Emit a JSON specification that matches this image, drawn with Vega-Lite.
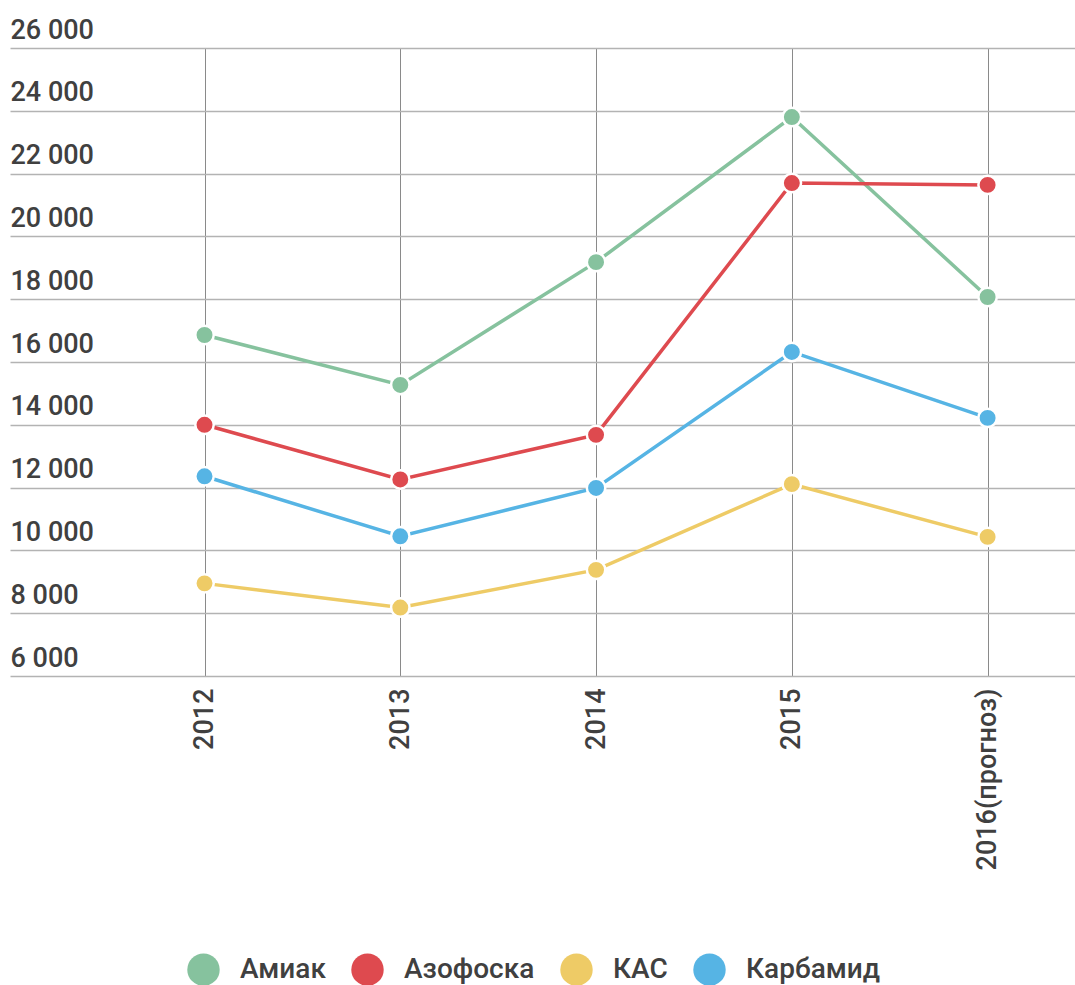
{
  "$schema": "https://vega.github.io/schema/vega-lite/v6.json",
  "width": 1065,
  "height": 628,
  "autosize": {"type": "none"},
  "padding": {"left": 10, "top": 48, "right": 0, "bottom": 309},
  "background": "white",
  "config": {
    "view": {"stroke": null},
    "font": "Roboto"
  },
  "data": {
    "values": [
      {"year": "2012", "product": "Амиак", "value": 16860},
      {"year": "2013", "product": "Амиак", "value": 15270},
      {"year": "2014", "product": "Амиак", "value": 19180},
      {"year": "2015", "product": "Амиак", "value": 23800},
      {"year": "2016(прогноз)", "product": "Амиак", "value": 18070},
      {"year": "2012", "product": "Азофоска", "value": 14000},
      {"year": "2013", "product": "Азофоска", "value": 12260},
      {"year": "2014", "product": "Азофоска", "value": 13680},
      {"year": "2015", "product": "Азофоска", "value": 21700},
      {"year": "2016(прогноз)", "product": "Азофоска", "value": 21640},
      {"year": "2012", "product": "КАС", "value": 8950},
      {"year": "2013", "product": "КАС", "value": 8180},
      {"year": "2014", "product": "КАС", "value": 9380},
      {"year": "2015", "product": "КАС", "value": 12110},
      {"year": "2016(прогноз)", "product": "КАС", "value": 10430},
      {"year": "2012", "product": "Карбамид", "value": 12360},
      {"year": "2013", "product": "Карбамид", "value": 10450},
      {"year": "2014", "product": "Карбамид", "value": 11990},
      {"year": "2015", "product": "Карбамид", "value": 16320},
      {"year": "2016(прогноз)", "product": "Карбамид", "value": 14220}
    ]
  },
  "encoding": {
    "x": {
      "field": "year",
      "type": "nominal",
      "sort": ["2012", "2013", "2014", "2015", "2016(прогноз)"],
      "scale": {"type": "point", "padding": 0.72, "align": 0.69},
      "axis": {
        "title": null,
        "labelAngle": -90,
        "labelFontSize": 27,
        "labelFontWeight": 500,
        "labelColor": "#404040",
        "labelPadding": 12,
        "labelLimit": 400,
        "ticks": false,
        "tickSize": 0,
        "domain": false,
        "grid": true,
        "gridColor": "#8a8a8a",
        "gridWidth": 1
      }
    },
    "y": {
      "field": "value",
      "type": "quantitative",
      "scale": {"domain": [6000, 26000], "nice": false, "zero": false},
      "axis": {
        "title": null,
        "values": [6000, 8000, 10000, 12000, 14000, 16000, 18000, 20000, 22000, 24000, 26000],
        "format": ",d",
        "labelExpr": "replace(datum.label, ',', ' ')",
        "labelAlign": "left",
        "labelBaseline": "alphabetic",
        "labelOffset": -10,
        "labelPadding": 0,
        "labelFontSize": 27,
        "labelFontWeight": 500,
        "labelColor": "#404040",
        "ticks": false,
        "tickSize": 0,
        "domain": false,
        "grid": true,
        "gridColor": "#b3b3b3",
        "gridWidth": 1.5
      }
    },
    "color": {
      "field": "product",
      "type": "nominal",
      "scale": {
        "domain": ["Амиак", "Азофоска", "КАС", "Карбамид"],
        "range": ["#86c29e", "#de4a4f", "#eecb66", "#56b4e4"]
      },
      "legend": {
        "title": null,
        "orient": "none",
        "legendX": 177,
        "legendY": 905,
        "direction": "horizontal",
        "symbolType": "circle",
        "symbolSize": 1050,
        "symbolStrokeWidth": 0,
        "symbolOpacity": 1,
        "labelFontSize": 28,
        "labelFontWeight": 500,
        "labelColor": "#404040",
        "labelOffset": 20,
        "columnPadding": 25
      }
    }
  },
  "layer": [
    {"mark": {"type": "line", "strokeWidth": 3.5}},
    {"mark": {"type": "point", "filled": true, "size": 340, "opacity": 1, "stroke": "white", "strokeWidth": 2.5}}
  ]
}
